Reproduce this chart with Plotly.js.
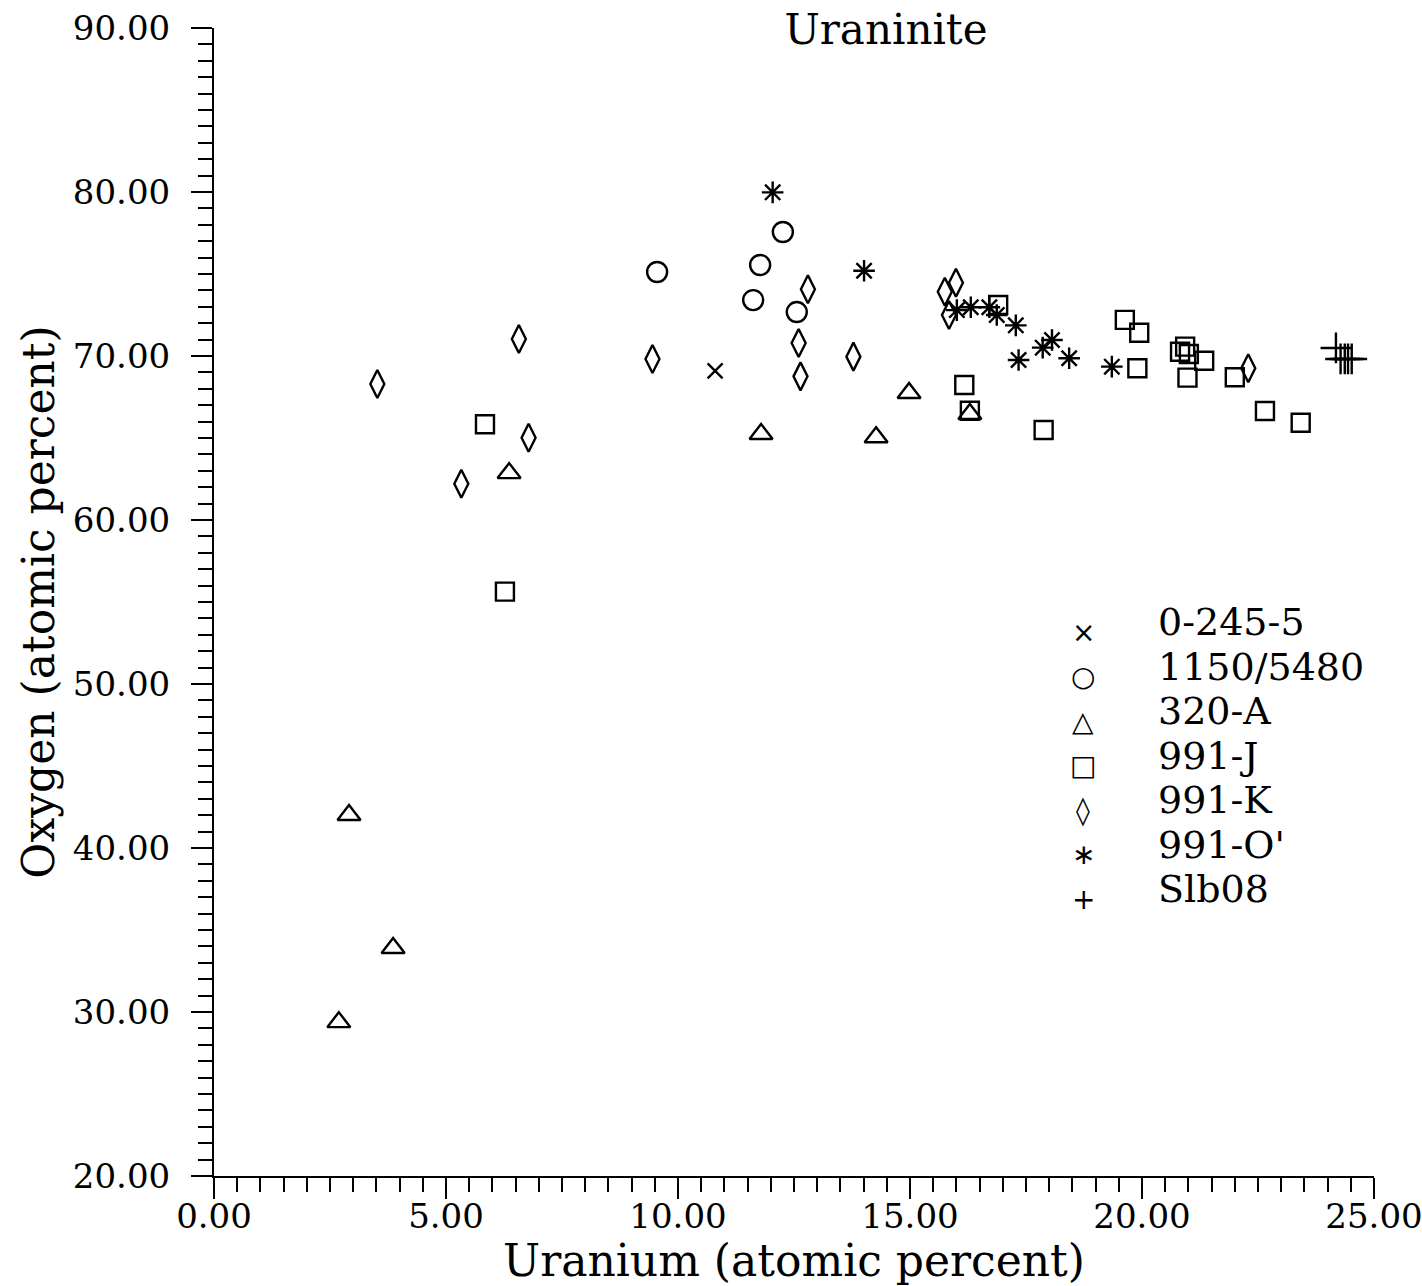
<!DOCTYPE html>
<html><head><meta charset="utf-8">
<script src="https://cdn.plot.ly/plotly-3.0.1.min.js"></script>
<style>html,body{margin:0;padding:0;background:#fff}#chart{width:1422px;height:1286px}</style>
</head><body><div id="chart"></div>
<script>
// ---- data ----
const seriesNames = ["0-245-5", "1150/5480", "320-A", "991-J", "991-K", "991-O'", "Slb08"];

const x_0245_5 = [10.80];
const y_0245_5 = [69.09];

const x_1150_5480 = [9.55, 12.26, 11.77, 11.62, 12.56];
const y_1150_5480 = [75.12, 77.56, 75.55, 73.41, 72.68];

const x_320A = [2.69, 2.91, 3.86, 6.36, 11.79, 14.27, 14.98, 16.29];
const y_320A = [29.38, 42.01, 33.90, 62.86, 65.24, 65.05, 67.74, 66.46];

const x_991J = [5.84, 6.27, 16.17, 16.29, 16.90, 17.88, 19.63, 19.94, 19.90, 20.93, 20.82, 21.01, 21.34, 20.98, 22.00, 22.65, 23.42];
const y_991J = [65.84, 55.63, 68.23, 66.66, 73.11, 65.49, 72.20, 71.42, 69.25, 70.57, 70.26, 70.12, 69.71, 68.68, 68.70, 66.65, 65.93];

const x_991K = [3.52, 5.33, 6.57, 6.78, 9.45, 12.80, 12.60, 12.64, 13.78, 15.75, 15.99, 15.84, 22.29];
const y_991K = [68.29, 62.21, 71.04, 65.02, 69.82, 74.07, 70.79, 68.76, 69.96, 73.92, 74.47, 72.50, 69.25];

const x_991O = [12.04, 14.01, 16.01, 16.31, 16.71, 16.87, 17.28, 17.34, 17.86, 18.06, 18.43, 19.35];
const y_991O = [79.98, 75.20, 72.80, 72.97, 72.97, 72.50, 71.87, 69.76, 70.51, 70.98, 69.86, 69.35];

const x_Slb08 = [24.18, 24.28, 24.37, 24.44, 24.52];
const y_Slb08 = [70.49, 69.82, 69.82, 69.82, 69.82];

const legendGlyphs = ["\u00D7", "\u25CB", "\u25B3", "\u25A1", "\u25CA", "\u2217", "+"];

// ---- styles ----
const FONT = "DejaVu Serif";
const INK = "#000";
const symbols = ["x-thin-open", "circle-open", "triangle-up-open", "square-open", "diamond-tall-open", "asterisk-open", "cross-thin-open"];
const sizes = [15, 20, 20, 18, 20, 18, 22];
const xs = [x_0245_5, x_1150_5480, x_320A, x_991J, x_991K, x_991O, x_Slb08];
const ys = [y_0245_5, y_1150_5480, y_320A, y_991J, y_991K, y_991O, y_Slb08];

const traces = seriesNames.map((n, i) => ({
  type: "scatter", mode: "markers", name: n, x: xs[i], y: ys[i],
  showlegend: false,
  marker: {symbol: symbols[i], size: sizes[i], color: INK, line: {color: INK, width: 2.4}}
}));

// layout geometry
const L = 214, R = 48, T = 28, B = 110, W = 1422, H = 1286;
const pw = W - L - R, ph = H - T - B;
const pxX = p => (p - L) / pw;
const pxY = p => (H - B - p) / ph;

const annotations = [];
const rowY0 = 622, rowStep = 44.5;
seriesNames.forEach((n, i) => {
  const yc = rowY0 + i * rowStep;
  annotations.push({xref: "paper", yref: "paper", x: pxX(1156), y: pxY(yc), xanchor: "left", yanchor: "middle",
    text: n, showarrow: false, font: {family: FONT, size: 38, color: INK}});
  annotations.push({xref: "paper", yref: "paper", x: pxX(1083), y: pxY(yc + 10), xanchor: "center", yanchor: "middle",
    text: legendGlyphs[i], showarrow: false, font: {family: "DejaVu Sans", size: 28, color: INK}});
});

const axisCommon = {
  showline: true, linewidth: 2, linecolor: INK, mirror: false,
  ticks: "outside", ticklen: 21, tickwidth: 2, tickcolor: INK,
  showgrid: false, zeroline: false, tickformat: ".2f", ticklabeloverflow: "allow",
  tickfont: {family: FONT, size: 34, color: INK}
};

const layout = {
  width: W, height: H,
  margin: {l: L, r: R, t: T, b: B, pad: 0},
  paper_bgcolor: "#fff", plot_bgcolor: "#fff",
  showlegend: false,
  title: {text: "Uraninite", xref: "paper", x: pxX(886), xanchor: "center", yref: "container", y: 1 - 29 / H, yanchor: "middle",
    font: {family: FONT, size: 42, color: INK}},
  xaxis: Object.assign({}, axisCommon, {
    range: [0, 25], tick0: 0, dtick: 5, ticklabelstandoff: -12,
    minor: {ticks: "outside", dtick: 0.5, tick0: 0, ticklen: 14, tickwidth: 2, tickcolor: INK, showgrid: false},
    title: {text: "Uranium (atomic percent)", font: {family: FONT, size: 44, color: INK}, standoff: 4}
  }),
  yaxis: Object.assign({}, axisCommon, {
    range: [20, 90], tick0: 20, dtick: 10, ticklabelstandoff: 14,
    minor: {ticks: "outside", dtick: 1, tick0: 20, ticklen: 14, tickwidth: 2, tickcolor: INK, showgrid: false},
    title: {text: "Oxygen (atomic percent)", font: {family: FONT, size: 44, color: INK}, standoff: 4}
  }),
  annotations: annotations
};

Plotly.newPlot("chart", traces, layout, {displayModeBar: false, staticPlot: true});
</script>
</body></html>
